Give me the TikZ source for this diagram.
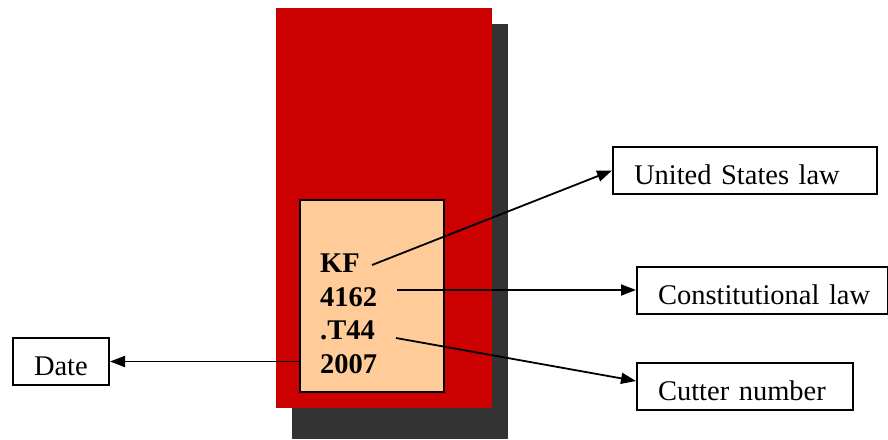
\documentclass[tikz,border=0pt]{standalone}
\usepackage{fontspec}
\setmainfont{Liberation Serif}
\usetikzlibrary{arrows.meta}
\definecolor{bookred}{HTML}{CC0000}
\definecolor{shadowgray}{HTML}{333333}
\definecolor{labelorange}{HTML}{FFCC99}
\tikzset{
  txt/.style={font=\fontsize{28.5}{33}\selectfont},
  callno/.style={font=\fontsize{28.5}{33}\selectfont\bfseries, anchor=base west, inner sep=0pt},
  lbox/.style={draw=black, line width=2pt, txt, inner ysep=0pt, inner xsep=21pt,
    align=left, text height=28pt, text depth=0pt, minimum height=47pt, anchor=north west},
  conn/.style={line width=1.8pt, -{Triangle[length=15pt,width=11pt]}},
}
\begin{document}
\begin{tikzpicture}[x=1pt,y=-1pt]
\useasboundingbox (0,0) rectangle (888,439);
% book with shadow
\fill[shadowgray] (292,24) rectangle (508,439);
\fill[bookred] (276,8) rectangle (492,408);
% spine label
\node[draw=black, line width=2pt, fill=labelorange, minimum width=144pt, minimum height=192pt, inner sep=0pt] (label) at (372,296) {};
\node[callno] (kf) at (320,272) {KF};
\node[callno] (n4162) at (320,306) {4162};
\node[callno] (t44) at (320,339) {.T44};
\node[callno] (y2007) at (320,373) {2007};
\coordinate (kfs) at (372,265);
\coordinate (ns) at (397,290);
\coordinate (ts) at (396,338);
% boxes
\node[lbox, minimum width=264pt, text width=222pt] (us) at (612,146) {\mbox{United States law}};
\node[lbox, minimum width=251pt, text width=209pt] (const) at (636,266) {\mbox{Constitutional law}};
\node[lbox, minimum width=216pt, text width=174pt] (cut) at (636,362) {\mbox{Cutter number}};
\node[lbox, minimum width=96pt, text width=54pt] (date) at (12,337) {\mbox{Date}};
% connectors
\draw[conn] (kfs) -- (us.west);
\draw[conn] (ns) -- (const.west |- ns);
\draw[conn] (ts) -- ([yshift=5.5pt]cut.west);
\draw[conn] (label.west |- date.east) -- (date.east);
\end{tikzpicture}
\end{document}
